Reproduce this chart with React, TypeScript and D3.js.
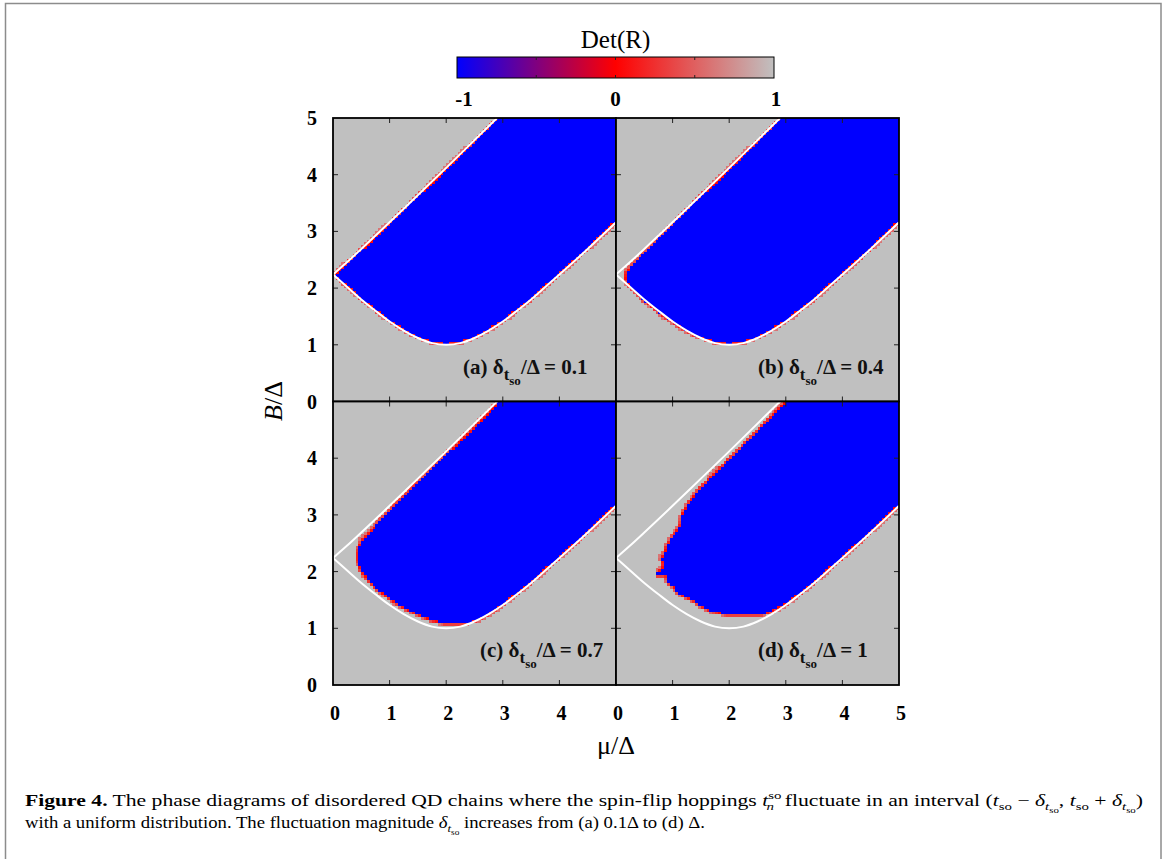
import React, { useEffect, useRef } from "react";
import * as d3 from "d3";

const muTicks = [0, 1, 2, 3, 4, 5];
const bTicks = [0, 1, 2, 3, 4, 5];
const detTicks = [-1, 0, 1];
const detMinor = [-0.5, 0, 0.5];

// white lines (clean chain phase boundary)
const lowerMu = [0, 0.25, 0.5, 0.75, 1, 1.25, 1.5, 1.75, 2, 2.25, 2.5, 2.75, 3, 3.25, 3.5, 3.75, 4, 4.5, 5];
const lowerB = [2.24, 2.02, 1.8, 1.6, 1.41, 1.25, 1.12, 1.03, 1.0, 1.03, 1.12, 1.25, 1.41, 1.6, 1.8, 2.02, 2.24, 2.69, 3.16];
const upperMu = [0, 0.25, 0.5, 1, 1.5, 2, 2.5, 2.9];
const upperB = [2.24, 2.46, 2.69, 3.16, 3.64, 4.12, 4.61, 5.0];

// edge of the blue region, from the top edge round the tip until it lands back on the lower white line
const edgeA = upperMu.map((m, i) => [m, upperB[i]]).reverse();
const edgeB = [
  [2.9, 5.0], [2.5, 4.61], [2.0, 4.12], [1.5, 3.64], [1.0, 3.14], [0.5, 2.64],
  [0.3, 2.45], [0.17, 2.3], [0.15, 2.18], [0.22, 2.04], [0.35, 1.9], [0.5, 1.76],
  [0.75, 1.56], [1.0, 1.38], [1.25, 1.23], [1.5, 1.11], [1.75, 1.03],
];
const edgeC = [
  [2.91, 5.0], [2.5, 4.57], [2.0, 4.09], [1.5, 3.6], [1.0, 3.1], [0.8, 2.9],
  [0.65, 2.72], [0.5, 2.57], [0.42, 2.4], [0.41, 2.2], [0.47, 2.03], [0.59, 1.86],
  [0.76, 1.69], [1.0, 1.5], [1.24, 1.35], [1.53, 1.21], [1.76, 1.12], [2.0, 1.07],
  [2.29, 1.07], [2.53, 1.12], [2.76, 1.24],
];
const edgeD = [
  [2.97, 5.0], [2.5, 4.5], [2.0, 4.0], [1.7, 3.72], [1.44, 3.44], [1.25, 3.2],
  [1.15, 3.02], [1.11, 2.8], [1.02, 2.68], [0.93, 2.56], [0.87, 2.44], [0.84, 2.32],
  [0.78, 2.25], [0.82, 2.14], [0.8, 2.06], [0.7, 2.0], [0.7, 1.93], [0.87, 1.92],
  [0.9, 1.79], [0.99, 1.73], [1.08, 1.62], [1.23, 1.53], [1.37, 1.47], [1.49, 1.38],
  [1.67, 1.29], [1.93, 1.23], [2.58, 1.23], [2.76, 1.29],
];

const letters = ["a", "b", "c", "d"];
const deltas = ["0.1", "0.4", "0.7", "1"];
const edges = [edgeA, edgeB, edgeC, edgeD];

const FONT = "'Liberation Serif', 'Times New Roman', serif";

function richText(sel, segs, baseSize) {
  let cur = 0;
  segs.forEach((s) => {
    const shift = s.shift ?? 0;
    const ts = sel
      .append("tspan")
      .attr("dy", shift - cur)
      .attr("font-size", s.size ?? baseSize)
      .text(s.t);
    if (s.i) ts.attr("font-style", "italic");
    if (s.b) ts.attr("font-weight", "bold");
    if (s.dx) ts.attr("dx", s.dx);
    cur = shift;
  });
}

function regionPolygon(edge) {
  const last = edge[edge.length - 1][0];
  const pts = edge.slice();
  lowerMu.forEach((m, i) => {
    if (m > last + 1e-6) pts.push([m, lowerB[i]]);
  });
  pts.push([5, 5]);
  return pts;
}

const App = () => {
  const svgRef = useRef(null);

  useEffect(() => {
    const svg = d3.select(svgRef.current);
    svg.selectAll("*").remove();

    const width = 1165;
    const height = 859;
    svg.attr("viewBox", [0, 0, width, height]).style("font-family", FONT);

    // outer frame
    svg
      .append("rect")
      .attr("x", 5.5)
      .attr("y", 3.5)
      .attr("width", 1155.5)
      .attr("height", 900)
      .attr("fill", "none")
      .attr("stroke", "#8c8c8c")
      .attr("stroke-width", 1.5);

    const color = d3
      .scaleLinear()
      .domain([-1, 0, 1])
      .range(["#0000ff", "#ff0000", "#c0c0c0"])
      .interpolate(d3.interpolateRgb);

    // colour bar
    const cx = d3.scaleLinear().domain([-1, 1]).range([457, 774]);
    const cbTop = 57;
    const cbH = 21;
    const defs = svg.append("defs");
    const grad = defs
      .append("linearGradient")
      .attr("id", "detGrad")
      .attr("x1", "0%")
      .attr("x2", "100%");
    detTicks.forEach((v) => {
      grad
        .append("stop")
        .attr("offset", `${((v + 1) / 2) * 100}%`)
        .attr("stop-color", color(v));
    });
    svg
      .append("rect")
      .attr("x", cx(-1))
      .attr("y", cbTop)
      .attr("width", cx(1) - cx(-1))
      .attr("height", cbH)
      .attr("fill", "url(#detGrad)")
      .attr("stroke", "#000")
      .attr("stroke-width", 1);
    detMinor.forEach((v) => {
      svg
        .append("line")
        .attr("x1", cx(v))
        .attr("x2", cx(v))
        .attr("y1", cbTop)
        .attr("y2", cbTop + 3)
        .attr("stroke", "#222");
      svg
        .append("line")
        .attr("x1", cx(v))
        .attr("x2", cx(v))
        .attr("y1", cbTop + cbH)
        .attr("y2", cbTop + cbH - 3)
        .attr("stroke", "#222");
    });
    svg
      .append("text")
      .attr("x", cx(0))
      .attr("y", 48)
      .attr("text-anchor", "middle")
      .attr("font-size", 25)
      .text("Det(R)");
    detTicks.forEach((v) => {
      svg
        .append("text")
        .attr("x", cx(v) + (v === -1 ? 7 : v === 1 ? 2 : 0))
        .attr("y", 106)
        .attr("text-anchor", "middle")
        .attr("font-size", 21)
        .attr("font-weight", "bold")
        .text(v);
    });

    // panels
    const left = 333;
    const top = 118;
    const pw = 283;
    const ph = 283.5;
    const N = 100;
    const step = 5 / N;
    const sub = 4;
    const labelDx = [130, 142, 147, 142];

    edges.forEach((edge, p) => {
      const col = p % 2;
      const row = Math.floor(p / 2);
      const x0 = left + col * pw;
      const y0 = top + row * ph;
      const x = d3.scaleLinear().domain([0, 5]).range([x0, x0 + pw]);
      const y = d3.scaleLinear().domain([0, 5]).range([y0 + ph, y0]);
      const g = svg.append("g");

      const clipId = `clip-${p}`;
      defs
        .append("clipPath")
        .attr("id", clipId)
        .append("rect")
        .attr("x", x0)
        .attr("y", y0)
        .attr("width", pw)
        .attr("height", ph);

      g.append("rect")
        .attr("x", x0)
        .attr("y", y0)
        .attr("width", pw)
        .attr("height", ph)
        .attr("fill", color(1));

      const poly = regionPolygon(edge);
      const cells = g
        .append("g")
        .attr("clip-path", `url(#${clipId})`)
        .attr("shape-rendering", "crispEdges");

      for (let j = 0; j < N; j++) {
        let runStart = 0;
        let runColor = null;
        const flush = (end) => {
          if (runColor && runColor !== color(1)) {
            cells
              .append("rect")
              .attr("x", x(runStart * step))
              .attr("y", y((j + 1) * step) - 0.3)
              .attr("width", x(end * step) - x(runStart * step) + 0.4)
              .attr("height", y(j * step) - y((j + 1) * step) + 0.6)
              .attr("fill", runColor);
          }
        };
        for (let i = 0; i < N; i++) {
          let inside = 0;
          for (let a = 0; a < sub; a++) {
            for (let b = 0; b < sub; b++) {
              const mu = (i + (a + 0.5) / sub) * step;
              const bb = (j + (b + 0.5) / sub) * step;
              if (d3.polygonContains(poly, [mu, bb])) inside++;
            }
          }
          const f = inside / (sub * sub);
          const v = f === 1 ? -1 : f === 0 ? 1 : 0.65 * (1 - f);
          const c = color(v);
          if (c !== runColor) {
            flush(i);
            runStart = i;
            runColor = c;
          }
        }
        flush(N);
      }

      // white boundary lines
      const line = d3
        .line()
        .x((d) => x(d[0]))
        .y((d) => y(d[1]))
        .curve(d3.curveMonotoneX);
      const lines = g.append("g").attr("clip-path", `url(#${clipId})`);
      lines
        .append("path")
        .attr("d", line(lowerMu.map((m, i) => [m, lowerB[i]])))
        .attr("fill", "none")
        .attr("stroke", "#fff")
        .attr("stroke-width", 2);
      lines
        .append("path")
        .attr("d", line(upperMu.map((m, i) => [m, upperB[i]])))
        .attr("fill", "none")
        .attr("stroke", "#fff")
        .attr("stroke-width", 2);

      // ticks (inward, all four sides)
      muTicks.slice(1, -1).forEach((t) => {
        g.append("line")
          .attr("x1", x(t)).attr("x2", x(t))
          .attr("y1", y0).attr("y2", y0 + 5)
          .attr("stroke", "#222");
        g.append("line")
          .attr("x1", x(t)).attr("x2", x(t))
          .attr("y1", y0 + ph).attr("y2", y0 + ph - 5)
          .attr("stroke", "#222");
      });
      bTicks.slice(1, -1).forEach((t) => {
        g.append("line")
          .attr("x1", x0).attr("x2", x0 + 5)
          .attr("y1", y(t)).attr("y2", y(t))
          .attr("stroke", "#222");
        g.append("line")
          .attr("x1", x0 + pw).attr("x2", x0 + pw - 5)
          .attr("y1", y(t)).attr("y2", y(t))
          .attr("stroke", "#222");
      });

      g.append("rect")
        .attr("x", x0)
        .attr("y", y0)
        .attr("width", pw)
        .attr("height", ph)
        .attr("fill", "none")
        .attr("stroke", "#000")
        .attr("stroke-width", 1.8);

      // panel label
      const lab = g
        .append("text")
        .attr("x", x0 + labelDx[p])
        .attr("y", y0 + ph - 28)
        .attr("font-weight", "bold")
        .attr("font-size", 21)
        .attr("fill", "#111");
      richText(
        lab,
        [
          { t: `(${letters[p]}) δ` },
          { t: "t", size: 17, shift: 6 },
          { t: "so", size: 13, shift: 11 },
          { t: `/Δ = ${deltas[p]}` },
        ],
        21
      );

      // tick labels
      if (col === 0) {
        bTicks
          .filter((t) => row === 0 || t < 5)
          .forEach((t) => {
            svg
              .append("text")
              .attr("x", 317)
              .attr("y", y(t) + 7)
              .attr("text-anchor", "end")
              .attr("font-size", 20)
              .attr("font-weight", "bold")
              .text(t);
          });
      }
      if (row === 1) {
        muTicks
          .filter((t) => col === 1 || t < 5)
          .forEach((t) => {
            svg
              .append("text")
              .attr("x", x(t) + 2)
              .attr("y", 720)
              .attr("text-anchor", "middle")
              .attr("font-size", 20)
              .attr("font-weight", "bold")
              .text(t);
          });
      }
    });

    // axis titles
    const yt = svg
      .append("text")
      .attr("transform", "translate(282,401) rotate(-90)")
      .attr("text-anchor", "middle")
      .attr("font-size", 26);
    yt.append("tspan").attr("font-style", "italic").text("B");
    yt.append("tspan").text("/Δ");

    svg
      .append("text")
      .attr("x", 616)
      .attr("y", 754)
      .attr("text-anchor", "middle")
      .attr("font-size", 26)
      .text("μ/Δ");

    // caption
    const cap1 = svg
      .append("text")
      .attr("x", 25)
      .attr("y", 806)
      .attr("font-size", 16)
      .attr("textLength", 1118)
      .attr("lengthAdjust", "spacingAndGlyphs");
    richText(
      cap1,
      [
        { t: "Figure 4.", b: 1 },
        { t: " The phase diagrams of disordered QD chains where the spin-flip hoppings " },
        { t: "t", i: 1 },
        { t: "so", size: 11, shift: -7 },
        { t: "n", size: 11, i: 1, shift: 4, dx: -11 },
        { t: " fluctuate in an interval (", dx: 4 },
        { t: "t", i: 1 },
        { t: "so", size: 11, shift: 4 },
        { t: " − " },
        { t: "δ", i: 1 },
        { t: "t", i: 1, size: 11, shift: 4 },
        { t: "so", size: 8, shift: 7 },
        { t: ", " },
        { t: "t", i: 1 },
        { t: "so", size: 11, shift: 4 },
        { t: " + " },
        { t: "δ", i: 1 },
        { t: "t", i: 1, size: 11, shift: 4 },
        { t: "so", size: 8, shift: 7 },
        { t: ")" },
      ],
      16
    );
    const cap2 = svg
      .append("text")
      .attr("x", 25)
      .attr("y", 828)
      .attr("font-size", 16)
      .attr("textLength", 680)
      .attr("lengthAdjust", "spacingAndGlyphs");
    richText(
      cap2,
      [
        { t: "with a uniform distribution. The fluctuation magnitude " },
        { t: "δ", i: 1 },
        { t: "t", i: 1, size: 11, shift: 4 },
        { t: "so", size: 8, shift: 7 },
        { t: " increases from (a) 0.1Δ to (d) Δ." },
      ],
      16
    );
  }, []);

  return (
    <svg
      ref={svgRef}
      width={1165}
      height={859}
      style={{ position: "absolute", left: 0, top: 0, background: "#fff" }}
    />
  );
};

export default App;
